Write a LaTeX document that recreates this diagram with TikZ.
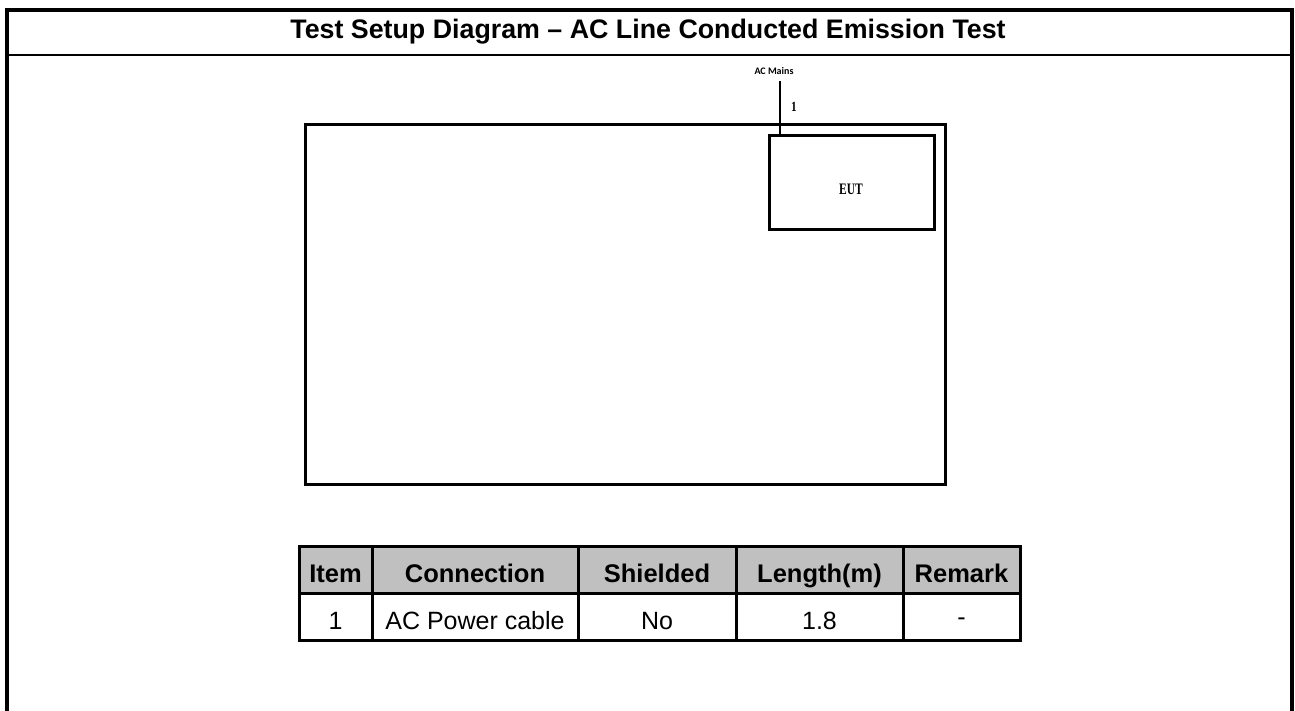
\documentclass[tikz,border=0pt]{standalone}
\usepackage{fontspec}
\setmainfont{Liberation Sans}
\newfontfamily\serifb{Liberation Serif}
\newfontfamily\carl{Carlito}
\definecolor{hdrgray}{RGB}{192,192,192}
\begin{document}
\begin{tikzpicture}[x=1pt,y=-1pt,
  frameline/.style={line width=3.2pt},
  boxline/.style={line width=3pt},
  cell/.style={draw, line width=3pt, rectangle, inner sep=0pt, minimum height=47pt,
     text height=25pt, text depth=0pt,
     font=\fontsize{25}{28}\selectfont},
  hcell/.style={cell, fill=hdrgray, font=\fontsize{25.5}{28}\selectfont\bfseries},
]
\useasboundingbox (0,0) rectangle (1295,711);
% outer frame (no bottom edge)
\coordinate (fbl) at (7,711);
\coordinate (ftl) at (7,10);
\coordinate (ftr) at (1292,10);
\coordinate (fbr) at (1292,711);
\draw[frameline] (fbl) -- (ftl) -- (ftr) -- (fbr);
\coordinate (sl) at (7,55);
\coordinate (sr) at (1292,55);
\draw[line width=2.6pt] (sl) -- (sr);
\node[font=\fontsize{26.8}{30}\selectfont\bfseries] (title) at (648,32)
  {Test Setup Diagram -- AC Line Conducted Emission Test};
% test area
\node[draw, boxline, rectangle, minimum width=640pt, minimum height=360pt, inner sep=0pt]
  (area) at (625.3,304.5) {};
\node[draw, boxline, rectangle, minimum width=165pt, minimum height=94pt, inner sep=0pt]
  (eut) at (851.5,182.5) {};
\node[font=\fontsize{16}{18}\selectfont\serifb\bfseries] (eutlbl) at (851,189)
  {\scalebox{0.72}[1]{EUT}};
\node[font=\fontsize{10}{11}\selectfont\carl\bfseries] (mains) at (774,71) {AC Mains};
\coordinate (acm) at (780,81.5);
\draw[line width=2.8pt] (acm) -- (acm |- eut.north);
\node[font=\fontsize{14}{15}\selectfont\serifb\bfseries] (lbl1) at (794,106.5)
  {\scalebox{0.8}[1]{1}};
% table
\node[hcell, minimum width=73pt]  (h1) at (335.5,569.5) {Item};
\node[hcell, minimum width=206pt] (h2) at (475,569.5) {Connection};
\node[hcell, minimum width=158pt] (h3) at (657,569.5) {Shielded};
\node[hcell, minimum width=167pt] (h4) at (819.5,569.5) {Length(m)};
\node[hcell, minimum width=117pt] (h5) at (961.5,569.5) {Remark};
\node[cell, minimum width=73pt]  (d1) at (335.5,616.5) {1};
\node[cell, minimum width=206pt] (d2) at (475,616.5) {AC Power cable};
\node[cell, minimum width=158pt] (d3) at (657,616.5) {No};
\node[cell, minimum width=167pt] (d4) at (819.5,616.5) {1.8};
\node[cell, minimum width=117pt] (d5) at (961.5,616.5) {\raisebox{4pt}{-}};
\end{tikzpicture}
\end{document}
